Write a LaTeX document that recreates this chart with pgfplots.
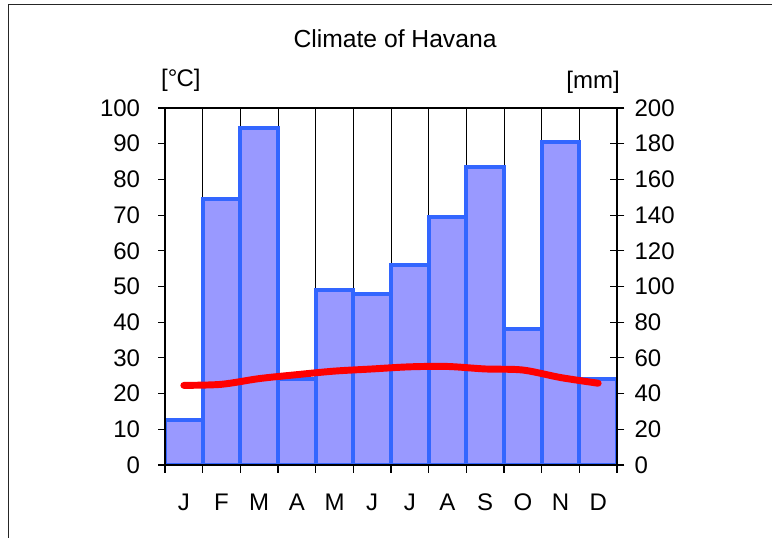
\documentclass[border=0pt]{standalone}
\usepackage{pgfplots}
\pgfplotsset{compat=1.18}
\usepackage{fontspec}
\setmainfont{Liberation Sans}
\definecolor{barfill}{RGB}{153,153,255}
\definecolor{barline}{RGB}{51,102,255}
\begin{document}
\begin{tikzpicture}
\useasboundingbox (0,0) rectangle (579pt,403.5pt);
\draw[line width=1.3pt, color=black!85] (6.4pt,0) -- (6.4pt,400.1pt) -- (579pt,400.1pt);
% precipitation axis (right)
\begin{axis}[
  at={(123.75pt,54.75pt)}, anchor=south west,
  width=339pt, height=267.75pt, scale only axis,
  xmin=0, xmax=12, ymin=0, ymax=200,
  xtick={1,2,...,11}, xticklabels={},
  xmajorgrids, grid style={black, line width=0.7pt},
  major x tick style={draw=none},
  ytick={0,20,...,200},
  ytick pos=right, yticklabel pos=right,
  ytick align=center, major tick length=11pt,
  y tick style={black, line width=0.8pt},
  axis line style={line width=1.5pt},
  /pgf/number format/assume math mode=true,
  yticklabel style={font=\fontsize{18}{21}\selectfont, anchor=west, inner sep=0pt, xshift=7.5pt},
]
\addplot[ybar, bar width=1, bar shift=0, fill=barfill, draw=barline, line width=3pt]
  coordinates {(0.5,25) (1.5,149) (2.5,189) (3.5,48) (4.5,98) (5.5,96)
               (6.5,112) (7.5,139) (8.5,167) (9.5,76) (10.5,181) (11.5,48)};
\end{axis}
% temperature axis (left)
\begin{axis}[
  at={(123.75pt,54.75pt)}, anchor=south west,
  width=339pt, height=267.75pt, scale only axis,
  xmin=0, xmax=12, ymin=0, ymax=100,
  xtick={0.5,1.5,...,11.5},
  xticklabels={J,F,M,A,M,J,J,A,S,O,N,D},
  minor xtick={0,1,...,12},
  xtick pos=bottom, ytick pos=left,
  tick align=outside,
  major tick length=5pt, minor tick length=6pt,
  major x tick style={draw=none},
  minor x tick style={black, line width=0.8pt},
  y tick style={black, line width=0.8pt},
  ytick={0,10,...,100},
  axis line style={line width=1.5pt},
  /pgf/number format/assume math mode=true,
  yticklabel style={font=\fontsize{18}{21}\selectfont, anchor=east, inner sep=0pt, xshift=-13.5pt},
  xticklabel style={font=\fontsize{18}{21}\selectfont, anchor=base, inner sep=0pt, yshift=-29.5pt},
  clip=false,
]
\addplot[red, line width=5.2pt, smooth, line cap=round]
  coordinates {(0.5,22.3) (1.5,22.6) (2.5,24.2) (3.5,25.3) (4.5,26.3) (5.5,26.9)
               (6.5,27.5) (7.5,27.6) (8.5,26.9) (9.5,26.6) (10.5,24.5) (11.5,22.9)};
\node[anchor=base, font=\fontsize{18.5}{22}\selectfont] at (rel axis cs:0.509,1.1686) {Climate of Havana};
\node[anchor=base, font=\fontsize{18}{21}\selectfont] at (rel axis cs:0.035,1.0597) {[°\kern-0.04em C]};
\node[anchor=base, font=\fontsize{18}{21}\selectfont] at (rel axis cs:0.947,1.054) {[mm]};
\end{axis}
\end{tikzpicture}
\end{document}
